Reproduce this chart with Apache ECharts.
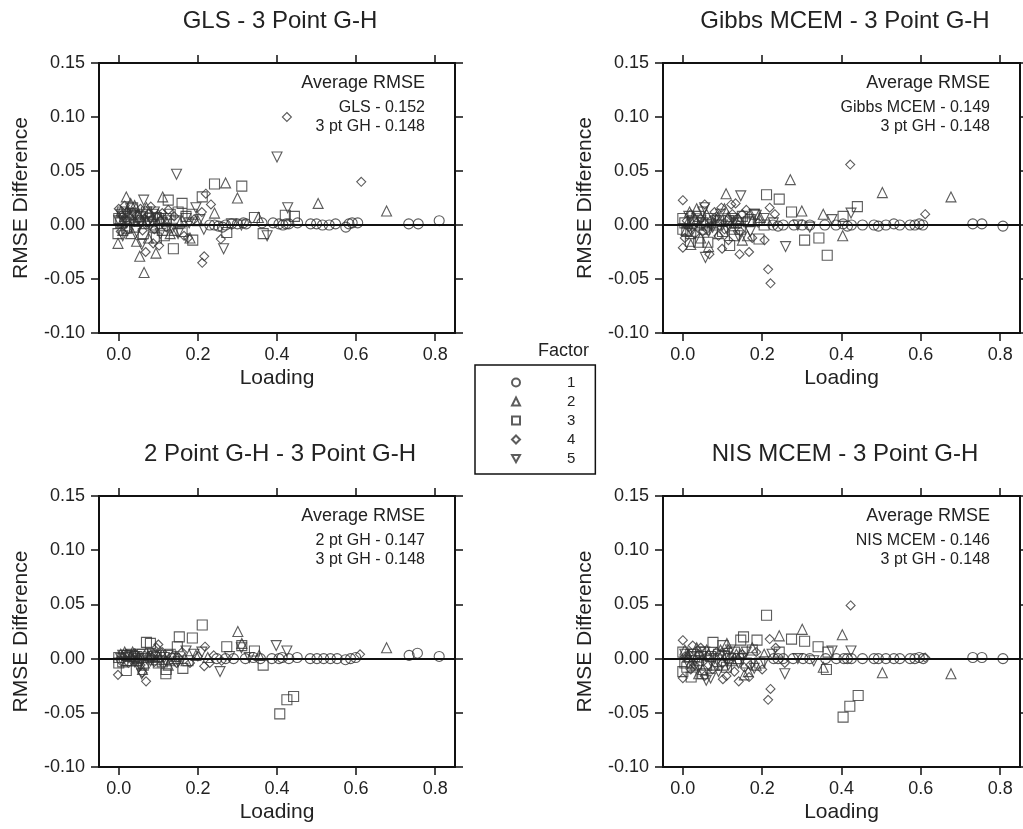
<!DOCTYPE html>
<html>
<head>
<meta charset="utf-8">
<script src="https://cdn.jsdelivr.net/npm/echarts@6/dist/echarts.min.js"></script>
<style>
html, body { margin: 0; padding: 0; background: #fff; }
#main { width: 1023px; height: 829px; }
</style>
</head>
<body>
<div id="main"></div>
<script>
// tick labels
var xTicks = [0, 0.2, 0.4, 0.6, 0.8];
var factorNames = ['1', '2', '3', '4', '5'];
var panelTitles = ['GLS - 3 Point G-H', 'Gibbs MCEM - 3 Point G-H', '2 Point G-H - 3 Point G-H', 'NIS MCEM - 3 Point G-H'];
var rmseLines = [
    ['GLS - 0.152', '3 pt GH - 0.148'],
    ['Gibbs MCEM - 0.149', '3 pt GH - 0.148'],
    ['2 pt GH - 0.147', '3 pt GH - 0.148'],
    ['NIS MCEM - 0.146', '3 pt GH - 0.148']
];

// GLS - 3 Point G-H  [loading, rmse difference]
var glsF1 = [[0.230,0.000],[0.252,-0.001],[0.270,0.000],[0.285,0.001],[0.300,0.001],[0.315,0.002],[0.322,0.001],[0.362,0.002],[0.390,0.002],[0.405,0.001],[0.415,0.000],[0.423,0.001],[0.430,0.001],[0.452,0.002],[0.485,0.001],[0.500,0.001],[0.515,0.000],[0.532,0.000],[0.548,0.001],[0.574,-0.002],[0.582,0.001],[0.590,0.002],[0.604,0.002],[0.733,0.001],[0.757,0.001],[0.810,0.004],[0.242,0.000],[0.262,-0.002]];
var glsF2 = [[0.019,0.026],[0.111,0.026],[0.270,0.039],[0.300,0.025],[0.504,0.020],[0.677,0.013],[0.242,0.011],[0.353,0.007],[0.064,-0.044],[0.053,-0.029],[0.094,-0.026],[-0.002,-0.017],[0.005,0.012],[0.020,0.005],[0.030,-0.008],[0.040,0.018],[0.060,0.004],[0.075,-0.012],[0.085,0.008],[0.120,0.003],[0.140,-0.005],[0.155,0.002],[0.180,-0.012],[0.200,0.004],[0.030,0.020],[0.010,-0.005],[0.045,-0.015],[0.100,0.010],[0.130,-0.008],[0.008,0.003],[0.025,0.012],[0.050,0.010],[0.070,0.016],[0.090,-0.002]];
var glsF3 = [[0.242,0.038],[0.311,0.036],[0.211,0.026],[0.125,0.023],[0.343,0.007],[0.421,0.009],[0.444,0.008],[0.365,-0.008],[0.273,-0.007],[0.138,-0.022],[0.187,-0.014],[0.062,-0.008],[0.000,0.006],[-0.002,-0.008],[0.010,0.012],[0.030,0.010],[0.050,0.004],[0.080,0.003],[0.100,0.006],[0.110,-0.005],[0.150,0.012],[0.170,0.008],[0.160,-0.006],[0.095,-0.012],[0.130,0.010],[0.020,-0.003],[0.040,-0.002],[0.070,0.012],[0.115,-0.010],[0.185,0.010],[0.160,0.020],[0.145,0.004],[0.005,0.002],[0.015,0.008],[0.035,0.016],[0.055,0.008],[0.085,0.010],[0.120,0.006],[0.090,0.000]];
var glsF4 = [[0.425,0.100],[0.613,0.040],[0.220,0.029],[0.233,0.019],[0.210,0.012],[0.258,-0.013],[0.216,-0.029],[0.211,-0.035],[0.068,-0.025],[0.087,-0.017],[0.102,-0.019],[0.081,0.017],[0.000,0.015],[0.010,0.008],[0.015,0.018],[0.025,-0.004],[0.035,0.012],[0.045,0.009],[0.055,0.015],[0.065,0.006],[0.075,0.010],[0.090,-0.004],[0.105,0.004],[0.125,0.014],[0.140,0.008],[0.165,-0.010],[0.190,0.005],[0.005,-0.006],[0.040,0.003],[0.175,-0.012],[0.060,-0.005],[0.120,-0.002],[0.020,0.012],[0.030,0.002],[0.050,0.005],[0.070,0.002],[0.095,0.008],[0.110,0.011]];
var glsF5 = [[0.400,0.063],[0.146,0.047],[0.427,0.016],[0.195,0.016],[0.375,-0.010],[0.265,-0.022],[0.058,-0.018],[0.150,-0.008],[0.063,0.023],[0.005,0.010],[0.020,0.002],[0.030,0.015],[0.045,-0.006],[0.060,0.010],[0.075,0.002],[0.090,0.012],[0.105,-0.008],[0.120,0.004],[0.135,-0.003],[0.170,0.006],[0.205,0.005],[0.285,0.001],[0.310,0.000],[0.215,-0.004],[0.010,-0.010],[0.095,0.007],[0.178,0.002],[0.015,0.006],[0.040,0.008],[0.055,0.002],[0.080,0.006],[0.110,0.002],[0.000,0.004]];

// Gibbs MCEM - 3 Point G-H
var gibbsF1 = [[0.227,0.000],[0.253,0.000],[0.280,0.000],[0.301,0.000],[0.320,0.000],[0.358,0.000],[0.386,0.000],[0.404,0.001],[0.425,0.000],[0.453,0.000],[0.482,0.000],[0.493,-0.001],[0.512,0.000],[0.532,0.001],[0.547,0.000],[0.573,0.000],[0.585,0.000],[0.596,0.001],[0.605,0.000],[0.731,0.001],[0.754,0.001],[0.807,-0.001],[0.240,-0.001],[0.415,-0.001]];
var gibbsF2 = [[0.271,0.042],[0.503,0.030],[0.676,0.026],[0.300,0.013],[0.354,0.010],[0.109,0.029],[0.403,-0.010],[0.163,-0.010],[0.195,0.007],[0.017,0.012],[0.008,-0.005],[0.030,0.006],[0.045,-0.012],[0.060,0.010],[0.075,0.002],[0.090,-0.008],[0.105,0.015],[0.125,-0.004],[0.140,0.006],[0.150,-0.014],[0.175,0.004],[0.020,-0.018],[0.065,-0.020],[0.115,0.008],[0.035,0.015],[0.012,0.002],[0.040,0.000],[0.085,0.005],[0.130,0.002]];
var gibbsF3 = [[0.211,0.028],[0.243,0.024],[0.274,0.012],[0.440,0.017],[0.404,0.008],[0.307,-0.014],[0.343,-0.012],[0.364,-0.028],[0.192,-0.013],[0.040,-0.016],[0.019,-0.015],[0.063,-0.016],[0.118,-0.019],[0.000,0.006],[0.010,-0.006],[0.025,0.004],[0.040,0.008],[0.055,-0.004],[0.070,0.006],[0.085,0.000],[0.100,-0.006],[0.115,0.004],[0.135,0.002],[0.150,0.008],[0.165,0.003],[0.180,0.010],[0.000,-0.004],[0.130,-0.010],[0.205,0.000],[0.050,0.002],[0.005,0.002],[0.020,-0.008],[0.060,0.000],[0.095,0.004],[0.145,-0.004],[0.170,0.005]];
var gibbsF4 = [[0.422,0.056],[0.611,0.010],[0.219,0.016],[0.232,0.010],[0.000,0.023],[0.055,0.019],[0.097,0.016],[0.122,0.019],[0.133,0.020],[0.206,-0.014],[0.215,-0.041],[0.221,-0.054],[0.143,-0.027],[0.167,-0.025],[0.067,-0.027],[0.000,-0.021],[0.099,-0.022],[0.010,0.004],[0.020,0.010],[0.030,-0.008],[0.045,0.006],[0.060,-0.004],[0.080,0.012],[0.090,-0.010],[0.110,0.004],[0.125,0.010],[0.145,-0.006],[0.160,0.014],[0.175,-0.012],[0.190,0.002],[0.005,-0.012],[0.115,-0.014],[0.085,0.008],[0.015,-0.002],[0.035,0.002],[0.050,-0.006],[0.070,0.004],[0.105,-0.004],[0.135,0.002],[0.150,0.010]];
var gibbsF5 = [[0.146,0.027],[0.376,0.005],[0.424,0.011],[0.259,-0.020],[0.057,-0.030],[0.015,0.008],[0.035,0.002],[0.050,0.012],[0.065,-0.006],[0.080,0.004],[0.095,0.010],[0.110,-0.003],[0.125,0.006],[0.140,-0.010],[0.160,0.002],[0.185,0.009],[0.205,0.006],[0.228,0.002],[0.290,0.000],[0.320,-0.002],[0.055,0.016],[0.170,-0.006],[0.180,0.010],[0.025,-0.004],[0.045,0.004],[0.075,-0.002],[0.100,0.000],[0.130,0.004]];

// 2 Point G-H - 3 Point G-H
var twoF1 = [[0.248,0.000],[0.270,0.000],[0.290,0.000],[0.320,0.000],[0.358,0.000],[0.387,0.000],[0.413,0.001],[0.451,0.001],[0.484,0.000],[0.501,0.000],[0.518,0.000],[0.535,0.000],[0.552,0.000],[0.573,-0.001],[0.586,0.000],[0.599,0.001],[0.734,0.003],[0.755,0.005],[0.810,0.002],[0.405,0.000],[0.430,0.000],[0.340,0.001]];
var twoF2 = [[0.301,0.025],[0.677,0.010],[0.311,0.014],[0.005,0.004],[0.020,-0.002],[0.035,0.006],[0.050,0.001],[0.065,-0.004],[0.080,0.003],[0.095,-0.001],[0.110,0.004],[0.125,-0.006],[0.145,0.002],[0.170,-0.002],[0.195,0.003],[0.225,0.001],[0.355,0.003],[0.060,-0.010],[0.015,0.006],[0.030,0.002],[0.045,-0.002],[0.075,0.001],[0.100,0.002],[0.130,-0.002]];
var twoF3 = [[0.211,0.031],[0.153,0.020],[0.186,0.019],[0.070,0.015],[0.148,0.011],[0.273,0.011],[0.311,0.012],[0.343,0.007],[0.365,-0.006],[0.119,-0.014],[0.019,-0.011],[0.162,-0.009],[0.062,-0.006],[0.442,-0.035],[0.425,-0.038],[0.407,-0.051],[0.000,0.001],[0.010,-0.003],[0.030,0.003],[0.045,-0.002],[0.085,0.002],[0.100,-0.004],[0.120,-0.010],[0.130,0.004],[0.080,0.014],[0.040,0.002],[0.175,-0.002],[0.000,-0.004],[0.020,0.003],[0.050,0.000],[0.060,0.004],[0.095,0.001],[0.110,-0.003],[0.140,0.000]];
var twoF4 = [[0.218,0.011],[-0.002,-0.015],[0.069,-0.021],[0.100,0.013],[0.216,-0.007],[0.610,0.004],[0.146,-0.004],[0.010,0.002],[0.025,-0.004],[0.040,0.005],[0.055,-0.006],[0.075,0.002],[0.090,-0.003],[0.110,0.006],[0.135,0.002],[0.160,0.006],[0.180,-0.004],[0.200,0.002],[0.240,0.003],[0.260,-0.002],[0.060,-0.013],[0.095,0.010],[0.230,-0.004],[0.005,-0.002],[0.020,0.004],[0.035,0.000],[0.065,0.003],[0.085,0.001],[0.120,-0.002],[0.150,0.001]];
var twoF5 = [[0.398,0.012],[0.310,0.010],[0.425,0.007],[0.256,-0.012],[0.058,-0.014],[0.170,0.007],[0.010,0.003],[0.025,0.001],[0.040,-0.003],[0.055,0.004],[0.070,0.000],[0.085,0.004],[0.105,-0.002],[0.125,0.003],[0.150,-0.003],[0.190,0.004],[0.210,0.006],[0.280,0.002],[0.330,0.001],[0.050,-0.008],[0.005,0.000],[0.030,0.004],[0.045,0.002],[0.080,-0.002],[0.095,0.003],[0.115,0.001]];

// NIS MCEM - 3 Point G-H
var nisF1 = [[0.229,0.000],[0.253,0.000],[0.278,0.000],[0.303,0.000],[0.320,0.000],[0.360,0.000],[0.387,0.000],[0.406,0.000],[0.425,0.000],[0.453,0.000],[0.482,0.000],[0.493,0.000],[0.512,0.000],[0.532,0.000],[0.547,0.000],[0.573,0.000],[0.585,0.000],[0.596,0.001],[0.606,0.000],[0.731,0.001],[0.754,0.001],[0.807,0.000],[0.240,0.000],[0.415,0.000]];
var nisF2 = [[0.301,0.027],[0.402,0.022],[0.243,0.021],[0.111,0.014],[0.503,-0.013],[0.676,-0.014],[0.354,-0.008],[0.005,0.008],[0.020,-0.004],[0.035,0.010],[0.050,-0.010],[0.065,0.004],[0.080,-0.006],[0.095,0.008],[0.125,-0.002],[0.145,0.004],[0.165,-0.012],[0.185,-0.006],[0.205,0.004],[0.175,0.010],[0.155,-0.015],[0.040,-0.014],[0.012,0.002],[0.030,-0.006],[0.060,0.008],[0.100,-0.002],[0.135,0.004]];
var nisF3 = [[0.211,0.040],[0.153,0.020],[0.187,0.017],[0.274,0.018],[0.307,0.016],[0.341,0.011],[0.366,0.006],[0.076,0.015],[0.101,0.012],[0.146,0.017],[0.243,0.006],[0.362,-0.010],[0.021,-0.017],[0.194,-0.004],[0.442,-0.034],[0.421,-0.044],[0.404,-0.054],[0.000,0.006],[0.010,-0.008],[0.030,0.002],[0.045,0.006],[0.060,-0.006],[0.090,0.004],[0.110,-0.008],[0.130,0.006],[0.160,-0.004],[0.000,-0.012],[0.050,-0.014],[0.120,0.000],[0.175,0.008],[0.005,-0.004],[0.020,0.004],[0.040,-0.002],[0.070,0.002],[0.100,-0.006],[0.140,0.000]];
var nisF4 = [[0.423,0.049],[0.000,0.017],[0.219,0.018],[0.234,0.010],[0.257,-0.004],[0.221,-0.028],[0.215,-0.038],[0.000,-0.018],[0.141,-0.021],[0.167,-0.017],[0.101,-0.019],[0.611,0.001],[0.015,0.004],[0.030,-0.006],[0.045,0.010],[0.060,0.002],[0.075,-0.010],[0.085,0.006],[0.100,-0.004],[0.115,0.008],[0.130,-0.012],[0.150,0.004],[0.170,-0.006],[0.185,0.006],[0.200,-0.010],[0.025,0.012],[0.110,-0.016],[0.055,-0.016],[0.005,0.002],[0.020,-0.010],[0.040,0.004],[0.065,-0.006],[0.095,0.004],[0.125,0.002],[0.155,-0.008]];
var nisF5 = [[0.376,0.007],[0.257,-0.014],[0.424,0.007],[0.059,-0.020],[0.010,-0.002],[0.025,0.004],[0.040,-0.008],[0.055,0.006],[0.070,-0.002],[0.090,-0.012],[0.105,0.002],[0.120,0.008],[0.140,-0.004],[0.160,0.006],[0.180,-0.009],[0.205,-0.003],[0.225,0.004],[0.290,0.000],[0.330,-0.002],[0.070,-0.018],[0.005,0.004],[0.030,-0.002],[0.050,0.002],[0.080,0.000],[0.115,-0.006],[0.150,0.000]];

var panelData = [
    [glsF1, glsF2, glsF3, glsF4, glsF5],
    [gibbsF1, gibbsF2, gibbsF3, gibbsF4, gibbsF5],
    [twoF1, twoF2, twoF3, twoF4, twoF5],
    [nisF1, nisF2, nisF3, nisF4, nisF5]
];

var FONT = '"Liberation Sans", Arial, Helvetica, sans-serif';
var INK = '#222';
var grids = [
    {left: 99, top: 63, width: 356, height: 270},
    {left: 663, top: 63, width: 357, height: 270},
    {left: 99, top: 496, width: 356, height: 271},
    {left: 663, top: 496, width: 357, height: 271}
];
var titleCenters = [275, 840];
// symbol per factor: circle, up triangle, square, diamond, down triangle
var symbols = ['circle', 'triangle', 'rect', 'diamond', 'triangle'];
var symbolSizes = [10, 10, 10, 9, 10];
var symbolRot = [0, 0, 0, 0, 180];
var downTri = 'path://M0,0L10,0L5,9Z';

var xAxes = [], yAxes = [], series = [], titles = [], graphics = [];

for (var g = 0; g < 4; g++) {
    var lineSt = {color: '#111', width: 2};
    var tickSt = {color: '#111', width: 1.5};
    xAxes.push({
        gridIndex: g, type: 'value', min: -0.05, max: 0.85, position: 'bottom',
        axisLine: {show: true, onZero: false, lineStyle: lineSt},
        axisTick: {show: true, inside: false, length: 8, lineStyle: tickSt, customValues: xTicks},
        axisLabel: {show: true, customValues: xTicks, margin: 13, fontSize: 18, color: INK, fontFamily: FONT,
            formatter: function (v) { return v.toFixed(1); }},
        splitLine: {show: false},
        name: 'Loading', nameLocation: 'middle', nameGap: 35,
        nameTextStyle: {fontSize: 21, color: INK, fontFamily: FONT}
    });
    xAxes.push({
        gridIndex: g, type: 'value', min: -0.05, max: 0.85, position: 'top',
        axisLine: {show: true, onZero: false, lineStyle: lineSt},
        axisTick: {show: true, inside: false, length: 8, lineStyle: tickSt, customValues: xTicks},
        axisLabel: {show: false},
        splitLine: {show: false}
    });
    yAxes.push({
        gridIndex: g, type: 'value', min: -0.1, max: 0.15, interval: 0.05, position: 'left',
        axisLine: {show: true, onZero: false, lineStyle: lineSt},
        axisTick: {show: true, inside: false, length: 8, lineStyle: tickSt},
        axisLabel: {show: true, margin: 14, fontSize: 18, color: INK, fontFamily: FONT,
            formatter: function (v) { return v.toFixed(2); }},
        splitLine: {show: false},
        name: 'RMSE Difference', nameLocation: 'middle', nameRotate: 90, nameGap: 67,
        nameTextStyle: {fontSize: 21, color: INK, fontFamily: FONT}
    });
    yAxes.push({
        gridIndex: g, type: 'value', min: -0.1, max: 0.15, interval: 0.05, position: 'right',
        axisLine: {show: true, onZero: false, lineStyle: lineSt},
        axisTick: {show: true, inside: false, length: 8, lineStyle: tickSt},
        axisLabel: {show: false},
        splitLine: {show: false}
    });

    for (var f = 0; f < 5; f++) {
        var s = {
            name: factorNames[f],
            type: 'scatter',
            xAxisIndex: g * 2,
            yAxisIndex: g * 2,
            symbol: symbols[f],
            symbolSize: symbolSizes[f],
            symbolRotate: symbolRot[f],
            itemStyle: {color: 'rgba(0,0,0,0)', borderColor: '#333', borderWidth: 1.1},
            silent: true,
            data: panelData[g][f]
        };
        if (f == 0) {
            s.markLine = {
                silent: true, symbol: ['none', 'none'], label: {show: false},
                lineStyle: {color: '#111', width: 2, type: 'solid'},
                data: [{yAxis: 0}]
            };
        }
        series.push(s);
    }

    titles.push({
        text: panelTitles[g], left: titleCenters[g % 2], top: grids[g].top - 59, textAlign: 'center',
        textStyle: {fontSize: 24, fontWeight: 'normal', color: INK, fontFamily: FONT}
    });

    var rx = grids[g].left + grids[g].width - 30;
    var ty = grids[g].top;
    graphics.push({type: 'text', x: rx, y: ty + 20, style: {text: 'Average RMSE', align: 'right', verticalAlign: 'middle', font: '18px ' + FONT, fill: INK}});
    graphics.push({type: 'text', x: rx, y: ty + 45, style: {text: rmseLines[g][0], align: 'right', verticalAlign: 'middle', font: '16px ' + FONT, fill: INK}});
    graphics.push({type: 'text', x: rx, y: ty + 64, style: {text: rmseLines[g][1], align: 'right', verticalAlign: 'middle', font: '16px ' + FONT, fill: INK}});
}

titles.push({
    text: 'Factor', left: 533, top: 337,
    textStyle: {fontSize: 18, fontWeight: 'normal', color: INK, fontFamily: FONT}
});

var option = {
    animation: false,
    backgroundColor: '#fff',
    textStyle: {fontFamily: FONT},
    title: titles,
    grid: grids,
    xAxis: xAxes,
    yAxis: yAxes,
    legend: {
        data: ['1', '2', '3', '4', {name: '5', icon: downTri}],
        orient: 'vertical',
        left: 475, top: 365,
        itemWidth: 8, itemHeight: 8, itemGap: 4,
        padding: [10, 20, 8, 36],
        borderColor: '#111', borderWidth: 1.5,
        selectedMode: false,
        textStyle: {fontSize: 15, color: INK, fontFamily: FONT, padding: [0, 0, 0, 42]}
    },
    graphic: graphics,
    series: series
};

var myChart = echarts.init(document.getElementById('main'), null, {renderer: 'canvas'});
myChart.setOption(option);
</script>
</body>
</html>
